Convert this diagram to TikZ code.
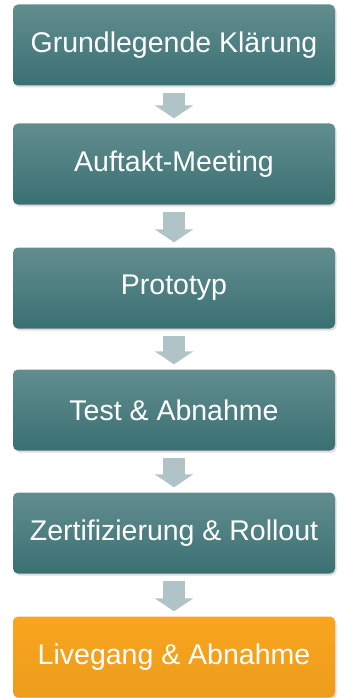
\documentclass[tikz,border=0pt]{standalone}
\usepackage{fontspec}
\setmainfont{Liberation Sans}
\usetikzlibrary{shapes, arrows.meta, positioning, shadows}
\definecolor{tealtop}{RGB}{98,141,143}
\definecolor{tealbot}{RGB}{58,112,115}
\definecolor{livegold}{RGB}{249,165,30}
\definecolor{arrowgrey}{RGB}{176,195,199}
\tikzstyle{stepbox} = [rectangle, rounded corners=5pt,
    minimum height=81pt, minimum width=322pt, text=white,
    font=\fontsize{28.5pt}{32pt}\selectfont,
    top color=tealtop, bottom color=tealbot,
    drop shadow={shadow xshift=1.5pt, shadow yshift=-2pt, opacity=0.25}]
\tikzstyle{finalbox} = [stepbox, top color=livegold, bottom color=livegold!95!black]
\tikzstyle{downArrow} = [line width=22pt, draw=arrowgrey,
    -{Triangle[width=38pt, length=13pt]}, shorten <=7pt, shorten >=5pt]

\begin{document}
\begin{tikzpicture}[x=1pt, y=-1pt]
        \useasboundingbox (0,0) rectangle (337,698);
        \begin{scope}
        \node[stepbox, name=klaerung] at (174,45) {Grundlegende Klärung};
        \node[stepbox, name=auftakt] at (174,164) {Auftakt-Meeting};
        \node[stepbox, name=prototyp] at (174,288) {Prototyp};
        \node[stepbox, name=test] at (174,410) {Test \& Abnahme};
        \node[stepbox, name=rollout] at (174,533) {Zertifizierung \& Rollout};
        \node[finalbox, name=livegang] at (174,657) {Livegang \& Abnahme};

            \draw[downArrow] (klaerung) -- (auftakt);
            \draw[downArrow] (auftakt) -- (prototyp);
            \draw[downArrow] (prototyp) -- (test);
            \draw[downArrow] (test) -- (rollout);
            \draw[downArrow] (rollout) -- (livegang);
        \end{scope}
    \end{tikzpicture}
\end{document}
